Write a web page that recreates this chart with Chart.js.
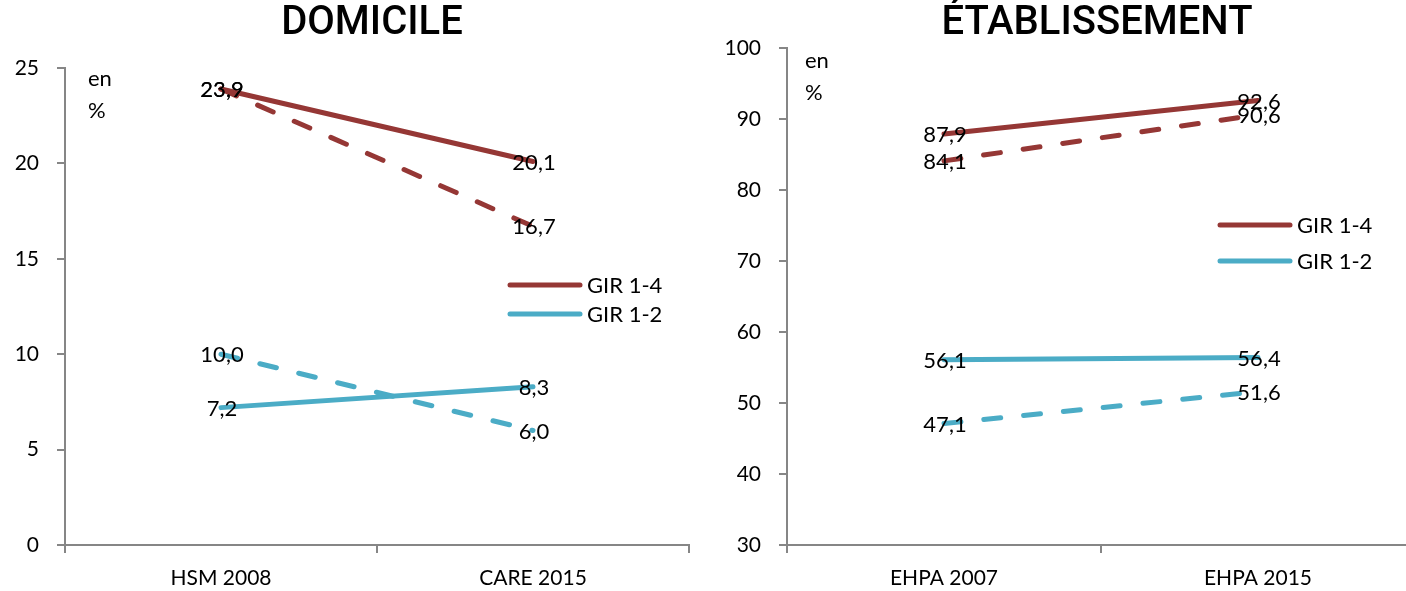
<!DOCTYPE html>
<html>
<head>
<meta charset="utf-8">
<script src="https://cdn.jsdelivr.net/npm/chart.js@4"></script>
<style>
  html, body { margin: 0; padding: 0; background: #fff; overflow: hidden; width: 1406px; height: 591px; }
  #left { position: absolute; left: 0; top: 0; }
  #right { position: absolute; left: 703px; top: 0; }
</style>
</head>
<body>
<canvas id="left" width="703" height="591"></canvas>
<canvas id="right" width="712" height="591"></canvas>
<script>
// Domicile data
const domCategories = ['HSM 2008', 'CARE 2015'];
const domGir14 = [23.9, 20.1];
const domGir14Dash = [23.9, 16.7];
const domGir12 = [7.2, 8.3];
const domGir12Dash = [10.0, 6.0];

// Etablissement data
const etabCategories = ['EHPA 2007', 'EHPA 2015'];
const etabGir14 = [87.9, 92.6];
const etabGir14Dash = [84.1, 90.6];
const etabGir12 = [56.1, 56.4];
const etabGir12Dash = [47.1, 51.6];

const RED = '#953735';
const BLUE = '#4BACC6';
const AXIS = '#868686';
const FONT = 'Lato, "Liberation Sans", sans-serif';

// draws the value labels, centered on each point
const valueLabels = {
  id: 'valueLabels',
  afterDatasetsDraw(chart) {
    const ctx = chart.ctx;
    ctx.save();
    ctx.font = '22px ' + FONT;
    ctx.fillStyle = '#000';
    ctx.textAlign = 'center';
    ctx.textBaseline = 'middle';
    chart.data.datasets.forEach((ds, i) => {
      chart.getDatasetMeta(i).data.forEach((pt, j) => {
        const txt = ds.data[j].toFixed(1).replace('.', ',');
        ctx.fillText(txt, pt.x + 1, pt.y + 1);
      });
    });
    ctx.restore();
  }
};

// title, "en %" note and the legend (solid series only)
const decorations = {
  id: 'decorations',
  afterDraw(chart, args, opts) {
    const ctx = chart.ctx;
    ctx.save();
    ctx.fillStyle = '#000';
    ctx.textBaseline = 'middle';

    ctx.font = '500 40px Roboto, sans-serif';
    ctx.textAlign = 'center';
    ctx.fillText(opts.title, opts.titleX, 24);

    ctx.font = '22px ' + FONT;
    ctx.textAlign = 'left';
    ctx.fillText('en', opts.unitX, opts.unitY);
    ctx.fillText('%', opts.unitX, opts.unitY + 32);

    let y = opts.legendY;
    chart.data.datasets.forEach((ds) => {
      if (ds.borderDash) return;
      ctx.strokeStyle = ds.borderColor;
      ctx.lineWidth = 5;
      ctx.lineCap = 'round';
      ctx.beginPath();
      ctx.moveTo(opts.legendX, y);
      ctx.lineTo(opts.legendX + 70, y);
      ctx.stroke();
      ctx.fillText(ds.label, opts.legendX + 77, y + 1);
      y += opts.legendGap;
    });
    ctx.restore();
  }
};

function makeDatasets(g14, g14d, g12, g12d) {
  const base = { borderWidth: 5, pointRadius: 0, fill: false, tension: 0, borderCapStyle: 'round' };
  return [
    { ...base, label: 'GIR 1-4 (pointillés)', data: g14d, borderColor: RED, borderDash: [17, 23], order: 1 },
    { ...base, label: 'GIR 1-2 (pointillés)', data: g12d, borderColor: BLUE, borderDash: [17, 23], order: 1 },
    { ...base, label: 'GIR 1-4', data: g14, borderColor: RED, order: 2 },
    { ...base, label: 'GIR 1-2', data: g12, borderColor: BLUE, order: 2 },
  ];
}

function makeChart(id, labels, datasets, yMin, yMax, yStep, yWidth, padTop, padRight, deco) {
  return new Chart(document.getElementById(id), {
    type: 'line',
    data: { labels: labels, datasets: datasets },
    plugins: [valueLabels, decorations],
    options: {
      responsive: false,
      animation: false,
      layout: { padding: { top: padTop, right: padRight, left: 0, bottom: 0 } },
      plugins: {
        legend: { display: false },
        tooltip: { enabled: false },
        decorations: deco,
      },
      scales: {
        x: {
          offset: true,
          grid: { offset: true, drawOnChartArea: false, color: AXIS, lineWidth: 2, tickLength: 8 },
          border: { color: AXIS, width: 2 },
          ticks: { color: '#000', font: { family: FONT, size: 21 }, padding: 13, maxRotation: 0 },
          afterFit(scale) { scale.height = 46; },
        },
        y: {
          min: yMin,
          max: yMax,
          grid: { drawOnChartArea: false, color: AXIS, lineWidth: 2, tickLength: 8 },
          border: { color: AXIS, width: 2 },
          ticks: { stepSize: yStep, color: '#000', font: { family: FONT, size: 21 }, padding: 18 },
          afterFit(scale) { scale.width = yWidth; },
        },
      },
    },
  });
}

makeChart('left', domCategories, makeDatasets(domGir14, domGir14Dash, domGir12, domGir12Dash),
  0, 25, 5, 65, 68, 14,
  { title: 'DOMICILE', titleX: 372, unitX: 88, unitY: 79, legendX: 510, legendY: 285, legendGap: 29 });

makeChart('right', etabCategories, makeDatasets(etabGir14, etabGir14Dash, etabGir12, etabGir12Dash),
  30, 100, 10, 84, 48, 0,
  { title: 'ÉTABLISSEMENT', titleX: 394, unitX: 102, unitY: 61, legendX: 517, legendY: 225, legendGap: 36 });
</script>
</body>
</html>
